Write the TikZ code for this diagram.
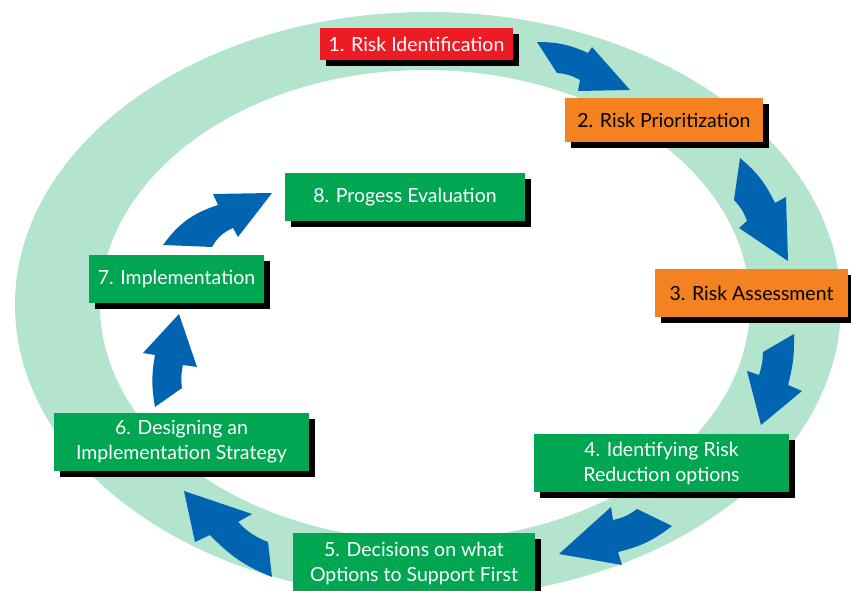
\documentclass[tikz,border=0pt]{standalone}
\usepackage{fontspec}
\setmainfont{Lato}
\usetikzlibrary{shadows}
\definecolor{ringgreen}{HTML}{B3E4CE}
\definecolor{stagered}{HTML}{ED1C24}
\definecolor{stageorange}{HTML}{F58220}
\definecolor{stagegreen}{HTML}{00A651}
\definecolor{flowblue}{HTML}{0064B0}
\begin{document}
\begin{tikzpicture}[x=1pt,y=1pt,
		stage/.style={font=\fontsize{19.5}{25}\selectfont,align=center,inner sep=0pt,
			drop shadow={shadow xshift=6pt,shadow yshift=-6pt,fill=black,opacity=1}},
		redstage/.style={stage,fill=stagered,text=white},
		orangestage/.style={stage,fill=stageorange,text=black},
		greenstage/.style={stage,fill=stagegreen,text=white},
		flow/.style={fill=flowblue}]
	\useasboundingbox (0,0) rectangle (851,591);
	% ring
	\fill [ringgreen,even odd rule] (428,286) ellipse [x radius=413,y radius=293]
		(425,286) ellipse [x radius=325,y radius=235];
	% stages
	\node [redstage,minimum width=193,minimum height=32] (ident) at (416.5,547) {1. Risk Identification};
	\node [orangestage,minimum width=198,minimum height=44] (prior) at (664,471) {2. Risk Prioritization};
	\node [orangestage,minimum width=193,minimum height=48] (assess) at (751.5,298) {3. Risk Assessment};
	\node [greenstage,minimum width=255,minimum height=58] (options) at (661.5,128) {4. Identifying Risk\\Reduction options};
	\node [greenstage,minimum width=242,minimum height=60] (decide) at (414,28) {5. Decisions on what\\Options to Support First};
	\node [greenstage,minimum width=255,minimum height=58] (design) at (181.5,149) {6. Designing an\\Implementation Strategy};
	\node [greenstage,minimum width=175,minimum height=48] (impl) at (176.5,312) {7. Implementation};
	\node [greenstage,minimum width=240,minimum height=48] (eval) at (405,394) {8. Progess Evaluation};
	% arrows
	\fill [flow] (537,549) to[bend left=12] (588,538) -- (592,544) -- (630,501) -- (578,500) -- (580,511) to[bend right=12] (557,518) -- cycle;
	\fill [flow] (740,433) to[bend left=12] (775,388) -- (786,394) -- (788,330) -- (739,363) -- (747,370) to[bend right=12] (734,391) -- cycle;
	\fill [flow] (794,257) to[bend left=8] (788,206) -- (802,200) -- (761,166) -- (747,220) -- (759,216) to[bend right=8] (763,239) -- cycle;
	\fill [flow] (672,65) to[bend left=12] (618,39) -- (622,26) -- (559,37) -- (611,84) -- (613,71) to[bend right=12] (637,82) -- cycle;
	\fill [flow] (272,14) to[bend left=12] (210,56) -- (195,49) -- (184,100) -- (252,77) -- (238,69) to[bend right=12] (268,49) -- cycle;
	\fill [flow] (155,184) to[bend left=10] (155,236) -- (143,238) -- (179,277) -- (197,224) -- (183,226) to[bend right=10] (182,203) -- cycle;
	\fill [flow] (163,346) to[bend left=18] (218,386) -- (213,397) -- (272,398) -- (238,354) -- (233,363) to[bend right=18] (212,344) -- cycle;
\end{tikzpicture}
\end{document}
